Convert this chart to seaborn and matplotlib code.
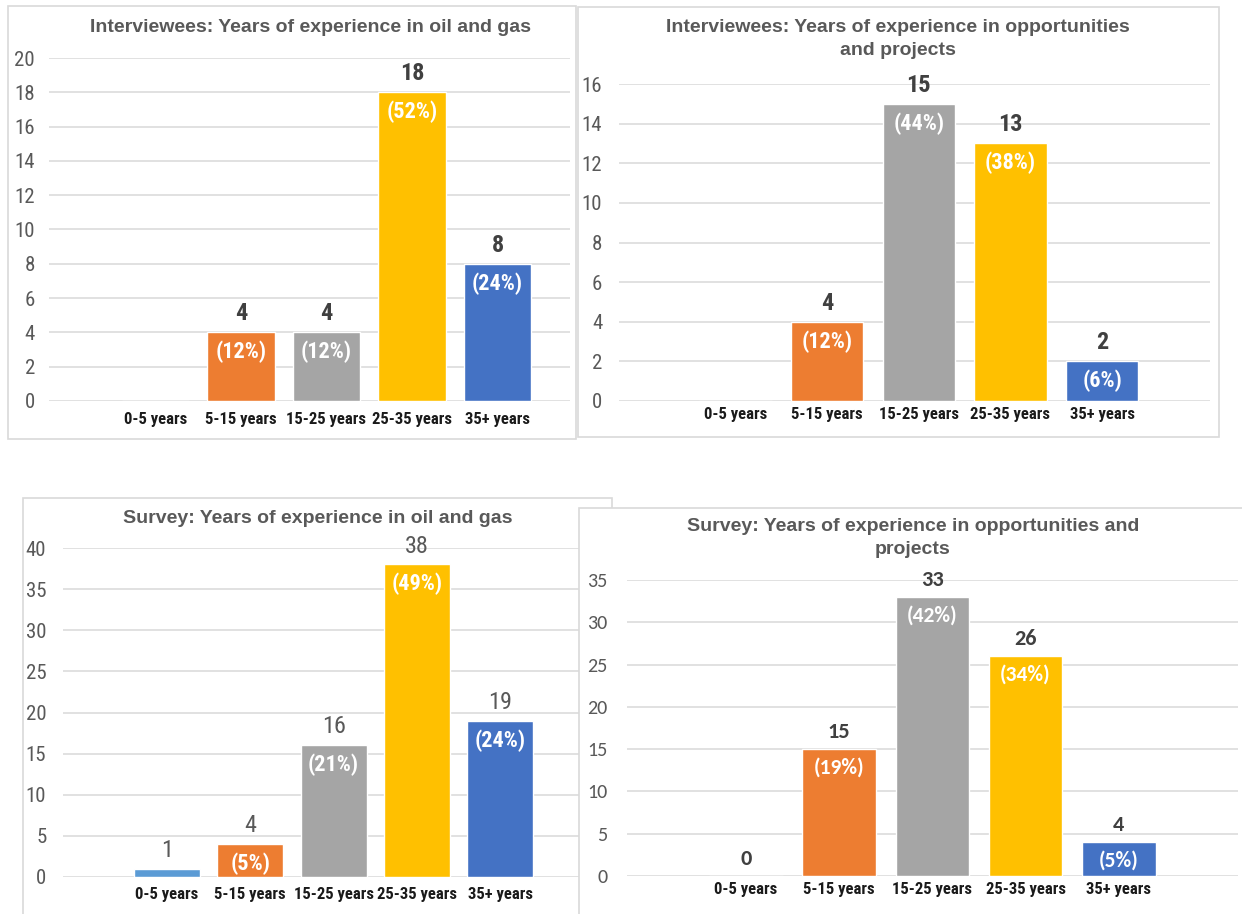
import matplotlib
matplotlib.use("Agg")
import matplotlib.pyplot as plt
from matplotlib import font_manager as fm
from matplotlib.patches import Rectangle
import seaborn as sns

# ---------------- data ----------------
categories = ["0-5 years", "5-15 years", "15-25 years", "25-35 years", "35+ years"]

int_oilgas_counts = [0, 4, 4, 18, 8]
int_oilgas_pct = ["", "(12%)", "(12%)", "(52%)", "(24%)"]

int_projects_counts = [0, 4, 15, 13, 2]
int_projects_pct = ["", "(12%)", "(44%)", "(38%)", "(6%)"]

srv_oilgas_counts = [1, 4, 16, 38, 19]
srv_oilgas_pct = ["(1%)", "(5%)", "(21%)", "(49%)", "(24%)"]

srv_projects_counts = [0, 15, 33, 26, 4]
srv_projects_pct = ["", "(19%)", "(42%)", "(34%)", "(5%)"]

titles = [
    "Interviewees: Years of experience in oil and gas",
    "Interviewees: Years of experience in opportunities\nand projects",
    "Survey: Years of experience in oil and gas",
    "Survey: Years of experience in opportunities and\nprojects",
]

palette = ["#5B9BD5", "#ED7D31", "#A5A5A5", "#FFC000", "#4472C4"]

# ---------------- fonts ----------------
_names = {f.name for f in fm.fontManager.ttflist}


def pick(*cands):
    for c in cands:
        if c in _names:
            return c
    return "DejaVu Sans"


NARROW = pick("Liberation Sans Narrow", "Roboto Condensed", "Open Sans Condensed", "Liberation Sans")
ARIAL = pick("Liberation Sans", "Arimo", "DejaVu Sans")
CALIBRI = pick("Carlito", "Lato", "Open Sans")

sns.set_theme(style="white")
plt.rcParams["font.family"] = [ARIAL, "DejaVu Sans"]

W, H = 1242, 914
fig = plt.figure(figsize=(W / 100, H / 100), dpi=100)
fig.patch.set_facecolor("white")


def fx(px):
    return px / W


def fy(py):
    return 1 - py / H


def border(x0, y0, x1, y1, z):
    r = Rectangle((fx(x0), fy(y1)), fx(x1) - fx(x0), fy(y0) - fy(y1),
                  transform=fig.transFigure, facecolor="white",
                  edgecolor="#D9D9D9", linewidth=1.2, zorder=z)
    fig.add_artist(r)


def panel(counts, pcts, title, spec, show_zero=False):
    (gx0, gx1, y0px, ytop_px, ymax, step, c0, spacing,
     tick_font, tick_size, tick_pad, cat_pad, num_font, num_weight, num_color,
     num_size, pct_font, pct_size, title_xy, z) = spec
    ax = fig.add_axes([fx(gx0), fy(y0px), fx(gx1) - fx(gx0), fy(ytop_px) - fy(y0px)])
    ax.set_zorder(z)
    ax.set_facecolor("none")
    sns.barplot(x=categories, y=counts, hue=categories, palette=palette,
                saturation=1, width=0.79, legend=False, ax=ax, zorder=3)
    ax.set_ylim(0, ymax)
    ax.set_xlim((gx0 - c0) / spacing, 4 + (gx1 - (c0 + 4 * spacing)) / spacing)
    ax.set_yticks(list(range(0, ymax + 1, step)))
    ax.grid(axis="y", color="#D9D9D9", linewidth=1.1, zorder=0)
    ax.grid(axis="x", visible=False)
    for s in ax.spines.values():
        s.set_visible(False)
    ax.tick_params(axis="y", length=0, pad=tick_pad, labelcolor="#595959")
    ax.tick_params(axis="x", length=0, pad=cat_pad, labelcolor="#1A1A1A")
    for t in ax.get_yticklabels():
        t.set_fontfamily(tick_font)
        t.set_fontsize(tick_size)
    for t in ax.get_xticklabels():
        t.set_fontfamily(NARROW)
        t.set_fontsize(12)
        t.set_fontweight("bold")
    ax.set_xlabel("")
    ax.set_ylabel("")

    for i, (v, p) in enumerate(zip(counts, pcts)):
        if v > 0 or show_zero:
            ax.annotate(str(v), (i, v), xytext=(0, 5), textcoords="offset points",
                        ha="center", va="bottom", fontsize=num_size,
                        fontfamily=num_font, fontweight=num_weight,
                        color=num_color, annotation_clip=False, zorder=5)
        if p:
            t = ax.annotate(p, (i, v), xytext=(0, -6), textcoords="offset points",
                            ha="center", va="top", fontsize=pct_size,
                            fontfamily=pct_font, fontweight="bold",
                            color="white", zorder=5)
            # percentages stay inside the plotting area (short bars clip them)
            t.set_clip_on(True)
            t.set_clip_path(ax.patch)

    fig.text(fx(title_xy[0]), fy(title_xy[1]), title, ha="center", va="top",
             fontsize=14, fontweight="bold", color="#595959",
             fontfamily=ARIAL, linespacing=1.45, zorder=z + 0.5)
    return ax


SPECS = [
    # gx0, gx1, y0, ytop, ymax, step, c0, spacing, tick font/size/pad, cat pad,
    # number font/weight/color/size, pct font/size, title pos, zorder
    (49, 570, 401, 58, 20, 2, 155.5, 85.5, NARROW, 15, 10, 8,
     NARROW, "bold", "#404040", 17.5, NARROW, 16, (310, 19), 2),
    (619, 1210, 401, 84, 16, 2, 735.6, 91.6, NARROW, 15, 12, 4,
     NARROW, "bold", "#404040", 17.5, NARROW, 16, (898, 19), 2),
    (63, 580, 877, 548, 40, 5, 167, 83.3, NARROW, 15, 12, 7,
     NARROW, "normal", "#595959", 17.5, NARROW, 16, (318, 510), 2),
    (627, 1238, 876, 580, 35, 5, 746, 93.2, CALIBRI, 14.5, 14, 4,
     CALIBRI, "bold", "#404040", 16, CALIBRI, 15.5, (913, 518), 6),
]

border(8, 6, 576, 439, 1)
border(578, 7, 1219, 437, 1)
border(23, 498, 612, 930, 1)
panel(int_oilgas_counts, int_oilgas_pct, titles[0], SPECS[0])
panel(int_projects_counts, int_projects_pct, titles[1], SPECS[1])
panel(srv_oilgas_counts, srv_oilgas_pct, titles[2], SPECS[2])
border(579, 508, 1250, 930, 5)
panel(srv_projects_counts, srv_projects_pct, titles[3], SPECS[3], show_zero=True)

fig.savefig("out.png", dpi=100, facecolor="white")
